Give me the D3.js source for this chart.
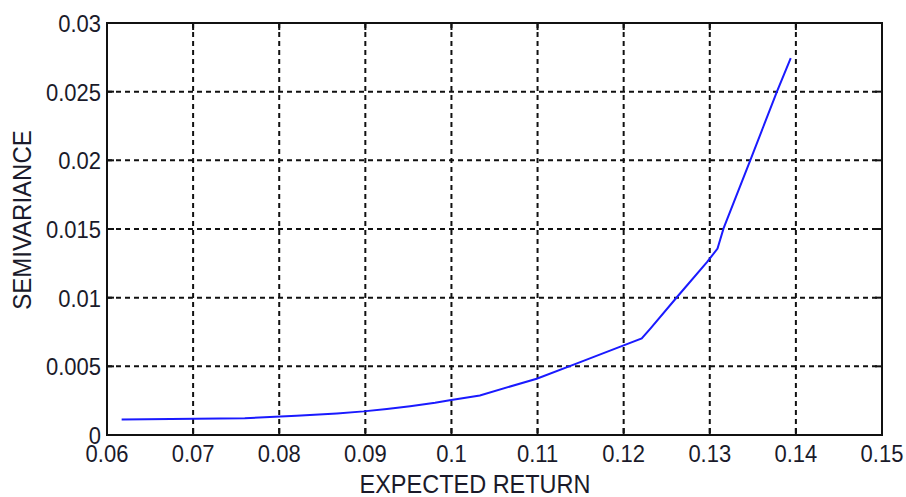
<!DOCTYPE html>
<html>
<head>
<meta charset="utf-8">
<script src="https://cdn.jsdelivr.net/npm/d3@7"></script>
<style>
  body { margin: 0; background: #fff; }
  svg text { font-family: "Liberation Sans", Arial, sans-serif; fill: #1a1a2a; }
</style>
</head>
<body>
<div id="chart"></div>
<script>
// efficient frontier: expected return vs semivariance
var expectedReturn = [0.0617, 0.0760, 0.0820, 0.0867, 0.0898, 0.0925, 0.0952, 0.0981,
                      0.0998, 0.1033, 0.1099, 0.1145, 0.1200, 0.1221, 0.1231, 0.1262,
                      0.1297, 0.1309, 0.1316, 0.1347, 0.1378, 0.1394];
var semivariance   = [0.00113, 0.00122, 0.00140, 0.00157, 0.00172, 0.00190, 0.00210, 0.00235,
                      0.00253, 0.00288, 0.00410, 0.00520, 0.00653, 0.00703, 0.00775, 0.01005,
                      0.01260, 0.01358, 0.01504, 0.02000, 0.02500, 0.02744];

var xTicks = [0.06, 0.07, 0.08, 0.09, 0.1, 0.11, 0.12, 0.13, 0.14, 0.15];
var xTickLabels = ["0.06", "0.07", "0.08", "0.09", "0.1", "0.11", "0.12", "0.13", "0.14", "0.15"];
var yTicks = [0, 0.005, 0.01, 0.015, 0.02, 0.025, 0.03];
var yTickLabels = ["0", "0.005", "0.01", "0.015", "0.02", "0.025", "0.03"];

var W = 906, H = 497;
var margin = {left: 107, top: 23, right: 24, bottom: 62};
var width = W - margin.left - margin.right;
var height = H - margin.top - margin.bottom;

var svg = d3.select("#chart").append("svg")
    .attr("width", W)
    .attr("height", H);

var x = d3.scaleLinear().domain([0.06, 0.15]).range([0, width]);
var y = d3.scaleLinear().domain([0, 0.03]).range([height, 0]);

var g = svg.append("g")
    .attr("transform", "translate(" + margin.left + "," + margin.top + ")");

// grid
g.selectAll(".vgrid").data(xTicks).enter().append("line")
    .attr("class", "vgrid")
    .attr("x1", function(d) { return x(d); })
    .attr("x2", function(d) { return x(d); })
    .attr("y1", 0).attr("y2", height)
    .attr("stroke", "#111").attr("stroke-width", 2)
    .attr("stroke-dasharray", "5,4");

g.selectAll(".hgrid").data(yTicks).enter().append("line")
    .attr("class", "hgrid")
    .attr("x1", 0).attr("x2", width)
    .attr("y1", function(d) { return y(d); })
    .attr("y2", function(d) { return y(d); })
    .attr("stroke", "#111").attr("stroke-width", 2)
    .attr("stroke-dasharray", "5,4");

// frame
g.append("rect")
    .attr("width", width).attr("height", height)
    .attr("fill", "none").attr("stroke", "#111").attr("stroke-width", 2);

// inward ticks on all four sides
var tl = 7;
xTicks.forEach(function(d) {
  g.append("line").attr("x1", x(d)).attr("x2", x(d)).attr("y1", height).attr("y2", height - tl)
      .attr("stroke", "#111").attr("stroke-width", 2);
  g.append("line").attr("x1", x(d)).attr("x2", x(d)).attr("y1", 0).attr("y2", tl)
      .attr("stroke", "#111").attr("stroke-width", 2);
});
yTicks.forEach(function(d) {
  g.append("line").attr("x1", 0).attr("x2", tl).attr("y1", y(d)).attr("y2", y(d))
      .attr("stroke", "#111").attr("stroke-width", 2);
  g.append("line").attr("x1", width).attr("x2", width - tl).attr("y1", y(d)).attr("y2", y(d))
      .attr("stroke", "#111").attr("stroke-width", 2);
});

// curve
var line = d3.line()
    .x(function(d, i) { return x(expectedReturn[i]); })
    .y(function(d) { return y(d); });

g.append("path")
    .datum(semivariance)
    .attr("d", line)
    .attr("fill", "none")
    .attr("stroke", "#1a1aff")
    .attr("stroke-width", 2);

// tick labels (slightly tall font, like the original)
var sy = 1.1;
g.selectAll(".xlab").data(xTicks).enter().append("text")
    .attr("class", "xlab")
    .attr("transform", function(d) { return "translate(" + x(d) + "," + (height + 27) + ") scale(1," + sy + ")"; })
    .attr("text-anchor", "middle")
    .style("font-size", "22px")
    .text(function(d, i) { return xTickLabels[i]; });

g.selectAll(".ylab").data(yTicks).enter().append("text")
    .attr("class", "ylab")
    .attr("transform", function(d) { return "translate(-6," + (y(d) + 9) + ") scale(1," + sy + ")"; })
    .attr("text-anchor", "end")
    .style("font-size", "22px")
    .text(function(d, i) { return yTickLabels[i]; });

// axis titles
svg.append("text")
    .attr("transform", "translate(475,493) scale(1,1.12)")
    .attr("text-anchor", "middle")
    .style("font-size", "23.5px")
    .text("EXPECTED RETURN");

svg.append("text")
    .attr("transform", "translate(31,220) rotate(-90) scale(1,1.1)")
    .attr("text-anchor", "middle")
    .style("font-size", "24px")
    .text("SEMIVARIANCE");
</script>
</body>
</html>
